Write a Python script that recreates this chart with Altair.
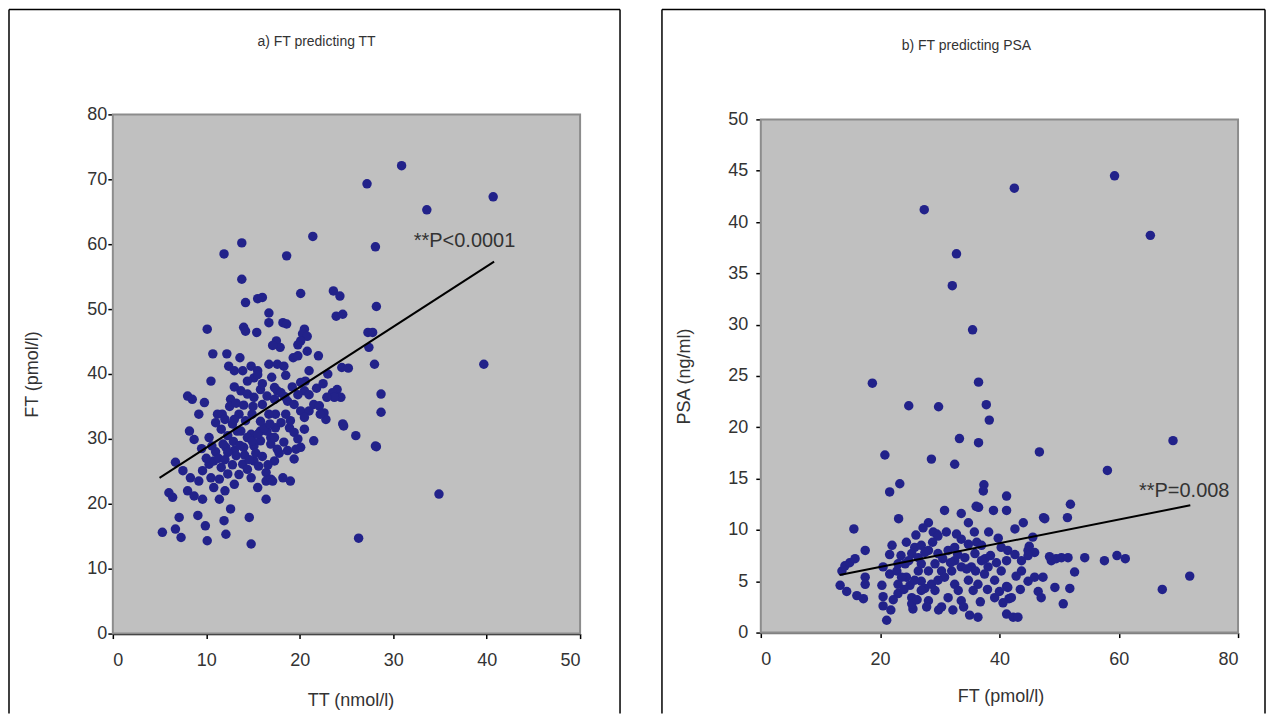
import altair as alt
import pandas as pd

# ---------- panel a: TT (x) vs FT (y) ----------
tt_upper = [30.9,27.2,33.6,40.7,21.4,28.1,18.6,11.9,13.8,13.8,20.1,15.5,16.0,14.2,23.6,24.3,23.9,24.6,28.2,10.1,14.0,14.2,15.4,16.7,16.7,18.2,18.6,20.5,20.3,20.8,20.1,19.8,17.5,17.9,17.1,20.8,22.0,19.3,19.8,27.3,27.8,27.4,28.0,10.7,12.2,13.6,12.4,13.0,13.9,14.8,15.5,15.1,16.7,17.6,18.3,21.0,20.6,24.5,25.2,10.5,39.7,34.9,26.3,28.7,28.7,28.1]
ft_upper = [72.1,69.3,65.3,67.3,61.2,59.6,58.2,58.5,60.2,54.6,52.4,51.6,51.8,51.0,52.8,52.0,48.9,49.2,50.4,46.9,47.2,46.6,46.4,49.4,47.9,47.9,47.7,46.9,46.2,45.8,45.1,44.5,45.1,44.1,44.4,43.5,42.8,42.5,42.8,46.4,46.4,44.1,41.5,43.1,43.1,42.5,41.2,40.5,40.5,41.2,40.5,39.4,41.5,41.5,41.2,40.5,38.9,41.0,40.9,38.9,41.5,21.5,14.7,36.9,34.1,28.9]
tt_mid = [8.0,8.5,9.8,12.6,13.7,14.4,15.1,15.8,16.5,17.3,17.6,9.2,11.7,13.5,14.9,17.4,17.3,18.0,18.7,19.4,20.1,20.1,20.5,21.5,22.1,21.0,22.6,24.0,23.5,24.4,23.7,22.9,22.8,24.7,26.0,14.4,15.5,11.2,16.7,18.5,20.5,22.2,24.6,28.2]
ft_mid = [36.6,36.1,35.6,36.1,37.4,36.9,36.4,37.6,36.6,36.1,37.4,33.8,33.8,33.8,33.8,33.8,37.9,37.1,35.8,35.3,34.3,38.7,37.4,35.3,35.1,34.3,34.0,37.6,37.1,36.4,36.4,36.4,33.0,32.0,30.5,38.9,39.9,33.8,33.8,33.8,33.3,33.8,32.3,28.8]
tt_low = [8.2,8.7,10.3,11.6,12.3,13.3,14.8,15.8,16.9,17.4,15.8,16.9,16.5,17.3,18.9,19.4,20.5,17.6,18.7,19.6,20.1,21.5,17.3,19.4,12.1,13.0,14.0,15.1,12.3,13.2,13.9,14.4,15.1,15.6,16.4,16.4,16.9,6.7,7.5,8.3,9.6,10.3,10.8,11.6,10.5,11.4,9.2,12.3,17.1,19.0]
ft_low = [31.2,29.9,30.2,31.5,30.5,31.2,30.7,31.2,30.2,31.7,29.7,29.2,31.2,30.2,31.7,31.0,31.5,28.4,28.2,28.4,28.7,29.7,26.6,26.9,28.7,28.2,28.7,28.9,27.9,27.4,26.1,25.3,26.6,25.8,24.8,23.5,23.8,26.4,25.1,24.0,25.1,26.1,26.6,25.6,24.0,23.8,23.5,24.6,23.5,23.5]
tt_bottom = [6.0,6.4,8.0,8.7,9.6,11.4,12.6,14.6,16.4,7.1,9.1,9.9,11.9,5.3,6.7,7.3,10.1,12.1,14.8]
ft_bottom = [21.7,21.0,22.0,21.2,20.7,20.7,19.2,17.9,20.7,17.9,18.2,16.6,17.4,15.6,16.1,14.8,14.3,15.3,13.8]
tt_core = [11.0,11.8,12.8,13.7,14.4,14.9,15.5,16.2,12.5,13.2,14.0,15.0,16.0,18.0,19.0,10.0,12.8,13.5,14.8,9.5,10.8,12.0,13.0,15.5,18.2,
           10.6,11.3,12.0,12.9,13.6,14.1,14.6,15.3,16.0,16.6,17.8,18.3,19.8,11.0,12.0,13.0,14.2,15.8,16.8,18.4,19.2,19.8,21.0,21.8,22.5,23.0,16.0,17.0,18.5,13.0]
ft_core = [28.0,29.2,32.3,31.2,30.2,29.7,30.7,31.7,35.0,35.5,35.2,35.0,35.3,32.5,32.8,27.0,26.0,24.5,24.0,28.5,22.5,22.0,23.0,22.5,24.0,
           28.9,27.0,26.8,29.6,29.0,27.5,26.8,27.8,27.3,26.0,27.8,29.5,30.0,32.5,33.0,33.0,32.8,32.7,32.3,36.5,38.0,36.8,36.8,37.8,38.5,40.0,38.5,39.5,39.8,38.0]

fit_a_x = [5.0, 40.8]
fit_a_y = [24.0, 57.3]
note_a = "**P<0.0001"
note_a_x = [32.2]
note_a_y = [60.5]

# ---------- panel b: FT (x) vs PSA (y) ----------
ftb_out = [27.4,42.5,59.3,65.3,32.8,32.1,35.5,18.7,36.5,24.8,29.8,37.8,38.3,33.3,36.5,20.8,28.6,32.5,46.7,69.1,58.1,23.3,21.6,37.4,37.3,41.2,71.9,67.3]
psa_out = [41.2,43.3,44.5,38.7,36.9,33.8,29.5,24.3,24.4,22.1,22.0,22.2,20.7,18.9,18.5,17.3,16.9,16.4,17.6,18.7,15.8,14.5,13.7,14.4,13.8,13.3,5.5,4.2]
ftb_mid = [30.8,36.1,36.5,23.1,33.6,34.8,41.2,39.0,15.6,28.1,29.5,42.6,44.0,47.4,47.6,51.9,51.4,45.6,45.0,17.5,28.9,29.7,31.1]
psa_mid = [11.9,12.3,12.2,11.1,11.6,10.7,11.9,11.9,10.1,10.7,9.6,10.1,10.7,11.2,11.1,12.5,11.2,9.3,8.4,8.0,9.8,9.4,9.8]
ftb_dense = [24.4,25.8,26.9,25.3,26.4,28.1,29.7,31.4,32.5,33.6,34.8,36.2,37.0,34.2,35.9,37.6,40.3,41.4,42.6,43.7,44.8,45.9,44.8,
             13.6,14.1,14.9,15.8,13.3,14.4,16.1,17.2,17.5,17.5,
             20.5,20.3,20.5,20.5,21.1,21.6,22.8,23.0,23.0,24.2,24.4,25.0,25.3,25.5,26.4,26.9,27.5,28.1,28.6,29.8,
             35.0,36.4,41.2,42.3,43.1,43.7,44.8,45.9,46.5,47.0,47.3,48.7,49.5,50.4,51.5,48.4,49.3,51.8,52.6,50.7,54.3,57.6,59.7,61.1,41.2,41.6]
psa_dense = [8.8,8.3,8.5,7.7,7.3,8.0,7.7,8.0,8.3,9.1,8.6,8.8,8.5,7.3,7.7,7.2,8.3,8.0,7.6,7.0,8.0,7.8,7.5,
             6.0,6.5,6.8,7.2,4.6,4.0,3.6,3.3,5.4,4.7,
             6.4,4.6,3.5,2.6,1.2,5.7,6.0,4.7,3.8,6.7,5.4,4.6,3.4,2.3,6.0,5.0,4.3,6.0,4.7,2.2,
             1.7,1.5,1.8,1.5,1.5,6.0,5.0,5.4,4.0,3.4,5.4,7.0,7.2,7.3,7.3,7.4,4.4,4.3,5.9,2.8,7.3,7.0,7.5,7.2,4.5,3.3]
ftb_core = [29.2,30.3,30.8,32.0,32.5,33.1,33.6,31.4,30.3,34.8,35.6,36.4,37.5,38.1,37.0,39.2,40.3,41.2,41.4,42.0,40.6,39.2,23.6,25.8,26.9,28.1,29.2,25.3,29.7,33.6,35.3,32.5,26.9,23.0,21.6,
            22.0,23.5,24.8,27.5,28.8,30.5,31.8,33.0,34.5,36.0,38.5,39.5,40.0,38.0,36.8,34.0,32.2,27.8,26.2,24.0,22.2,21.8,42.8,43.5,39.8,38.2,35.8,32.8,26.0,27.2]
psa_core = [6.7,6.0,5.4,6.0,4.7,4.1,3.1,3.4,2.5,5.1,4.1,4.7,5.7,6.4,7.0,5.1,6.0,7.0,4.4,3.4,2.9,3.4,5.4,5.1,4.1,3.1,4.1,2.8,5.1,6.4,6.4,7.0,6.7,6.7,7.6,
            8.5,7.5,7.0,7.8,8.8,7.2,6.8,7.6,6.2,6.0,7.5,6.8,4.0,4.2,3.0,2.5,2.2,2.5,3.2,4.2,3.2,2.2,5.5,4.2,9.2,9.8,9.8,9.6,9.5,10.2]

fit_b_x = [13.2, 72.0]
fit_b_y = [5.6, 12.4]
note_b = "**P=0.008"
note_b_x = [63.4]
note_b_y = [13.8]

title_a = "a) FT predicting TT"
title_b = "b) FT predicting PSA"

# ---------- styling ----------
FONT = "Liberation Sans"
TXT = "#333333"
DOT = "#22228a"
one = pd.DataFrame({"k": [0]})


def axis(values, domain_color, domain_width, title, tx, ty, pad):
    return alt.Axis(values=values, grid=False, domainColor=domain_color, domainWidth=domain_width,
                    tickColor="#000000", tickWidth=1.5, tickSize=5, labelFontSize=18,
                    labelFont=FONT, labelColor=TXT, labelPadding=pad, title=title,
                    titleFont=FONT, titleFontSize=18, titleFontWeight="normal", titleColor=TXT,
                    titleX=tx, titleY=ty, titleBaseline="middle", titleAlign="center")


def panel(xs, ys, fx, fy, nx, ny, note, title, xdom, ydom, xvals, yvals, xtitle, ytitle,
          w, h, top, bottom, frame, title_pos, xaxis_color, xt, yt, ypad):
    pts = pd.DataFrame({"x": xs, "y": ys})
    fit = pd.DataFrame({"x": fx, "y": fy})
    ann = pd.DataFrame({"x": nx, "y": ny, "t": [note]})
    xsc = alt.Scale(domain=xdom, nice=False, zero=False)
    ysc = alt.Scale(domain=ydom, nice=False, zero=False, range=[bottom, top])
    X = alt.X("x:Q", scale=xsc, axis=axis(xvals, xaxis_color, 2.5, xtitle, xt[0], xt[1], 13))
    Y = alt.Y("y:Q", scale=ysc, axis=axis(yvals, "#000000", 2, ytitle, yt[0], yt[1], ypad))

    fl, fr, ft, fb = frame
    side = alt.Chart(one).mark_rule(color="#000000", strokeWidth=1.5)
    f_left = side.encode(x=alt.value(fl), y=alt.value(ft), y2=alt.value(fb))
    f_right = side.encode(x=alt.value(fr), y=alt.value(ft), y2=alt.value(fb))
    f_top = side.encode(x=alt.value(fl), x2=alt.value(fr), y=alt.value(ft))
    bg = alt.Chart(one).mark_rect(fill="#c0c0c0", stroke="#8c8c8c", strokeWidth=2).encode(
        x=alt.value(0), x2=alt.value(w), y=alt.value(top), y2=alt.value(bottom))
    head = alt.Chart(one).mark_text(font=FONT, fontSize=14, color=TXT, align="center",
                                     baseline="middle").encode(
        x=alt.value(title_pos[0]), y=alt.value(title_pos[1]), text=alt.value(title))
    dots = alt.Chart(pts).mark_circle(size=90, color=DOT, opacity=1).encode(x=X, y=Y)
    line = alt.Chart(fit).mark_line(color="#000000", strokeWidth=2).encode(x="x:Q", y="y:Q")
    txt = alt.Chart(ann).mark_text(font=FONT, fontSize=20, color=TXT, align="left",
                                   baseline="middle").encode(x="x:Q", y="y:Q", text="t:N")
    return alt.layer(f_left, f_right, f_top, head, bg, dots, line, txt).properties(width=w, height=h)


# both panels share the same group origin (row-aligned); the right plot starts 5px lower
left = panel(tt_upper + tt_mid + tt_low + tt_bottom + tt_core,
             ft_upper + ft_mid + ft_low + ft_bottom + ft_core,
             fit_a_x, fit_a_y, note_a_x, note_a_y, note_a, title_a,
             [0, 50], [0, 80], [0, 10, 20, 30, 40, 50], [0, 10, 20, 30, 40, 50, 60, 70, 80],
             "TT (nmol/l)", "FT (pmol/l)", 468, 520, 0, 520,
             (-104, 508, -105, 600), (204, -73), "#000000", (238, 67), (-80, 260), 1)

right = panel(ftb_out + ftb_mid + ftb_dense + ftb_core,
              psa_out + psa_mid + psa_dense + psa_core,
              fit_b_x, fit_b_y, note_b_x, note_b_y, note_b, title_b,
              [0, 80], [0, 50], [0, 20, 40, 60, 80], [0, 5, 10, 15, 20, 25, 30, 35, 40, 45, 50],
              "FT (pmol/l)", "PSA (ng/ml)", 478, 519, 5, 519,
              (-99, 505, -105, 600), (206, -68), "#777777", (240, 64), (-76, 262), 8)

chart = alt.hconcat(left, right, spacing=40).properties(padding=0).configure_view(
    fill="#ffffff", strokeWidth=0)

chart.save("out.html", embed_options={"renderer": "svg", "actions": False})
